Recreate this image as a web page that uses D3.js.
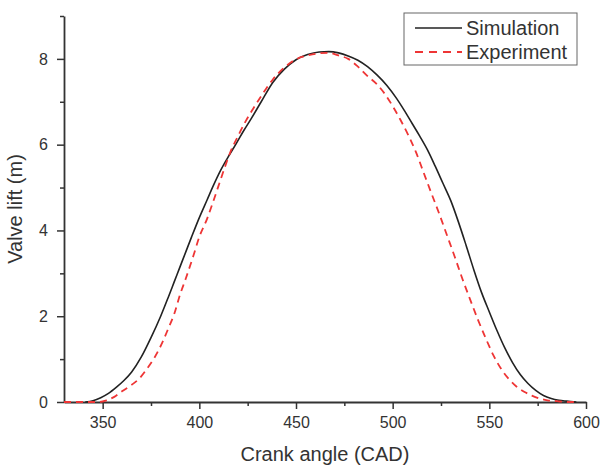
<!DOCTYPE html>
<html>
<head>
<meta charset="utf-8">
<script src="https://cdn.jsdelivr.net/npm/d3@7"></script>
<style>
  body { margin: 0; background: #fff; }
  svg { display: block; font-family: "Liberation Sans", Arial, sans-serif; }
</style>
</head>
<body>
<div id="chart"></div>
<script>
// simulated valve lift (black solid)
var simAngle = [341, 345, 349, 353, 357, 361, 365, 370, 375, 380, 384, 387, 390, 393, 396, 400, 404, 407, 411, 415,
                419, 423, 427, 432, 438, 444, 450, 456, 462, 467, 472, 477, 482, 487, 492, 497, 502, 506, 510, 514,
                518, 522, 526, 530, 534, 538, 542, 546, 550, 554, 558, 562, 566, 570, 574, 578, 582, 586, 590, 595];
var simLift = [0, 0.03, 0.1, 0.2, 0.34, 0.5, 0.7, 1.05, 1.5, 2.0, 2.45, 2.8, 3.15, 3.5, 3.85, 4.3, 4.71, 5.02, 5.4, 5.72,
               6.02, 6.33, 6.62, 7.0, 7.45, 7.76, 7.98, 8.1, 8.16, 8.17, 8.14, 8.07, 7.97, 7.82, 7.62, 7.38, 7.08, 6.8, 6.5, 6.2,
               5.88, 5.5, 5.1, 4.7, 4.2, 3.65, 3.08, 2.55, 2.1, 1.66, 1.26, 0.92, 0.64, 0.43, 0.27, 0.15, 0.08, 0.04, 0.02, 0];

// measured valve lift (red dashed)
var expAngle = [330, 340, 348, 352, 356, 360, 365, 369, 373, 377, 381, 384, 387, 390, 393, 397, 400, 404, 407, 410,
                413, 416, 420, 424, 428, 433, 438, 444, 450, 456, 462, 467, 472, 477, 482, 487, 492, 496, 500, 504,
                508, 512, 516, 520, 524, 528, 532, 536, 540, 544, 548, 552, 556, 560, 564, 568, 572, 576, 580, 585, 590, 596];
var expLift = [0, 0, 0, 0.04, 0.12, 0.25, 0.4, 0.55, 0.78, 1.05, 1.4, 1.72, 2.05, 2.5, 2.88, 3.42, 3.85, 4.27, 4.65, 5.05,
               5.45, 5.82, 6.2, 6.55, 6.85, 7.2, 7.52, 7.8, 7.99, 8.08, 8.13, 8.14, 8.08, 8.0, 7.82, 7.6, 7.4, 7.18, 6.9, 6.58,
               6.23, 5.83, 5.35, 4.87, 4.4, 3.9, 3.4, 2.88, 2.4, 1.93, 1.5, 1.1, 0.78, 0.54, 0.36, 0.24, 0.15, 0.08, 0.04, 0.02, 0, 0];

var xTicks = [350, 400, 450, 500, 550, 600];
var xMinor = [375, 425, 475, 525, 575];
var yTicks = [0, 2, 4, 6, 8];
var yMinor = [1, 3, 5, 7, 9];
var seriesNames = ['Simulation', 'Experiment'];

var width = 601,
    height = 467,
    margin = {top: 16, right: 15, bottom: 65, left: 64};
var w = width - margin.left - margin.right,
    h = height - margin.top - margin.bottom;

var svg = d3.select('#chart').append('svg')
    .attr('width', width)
    .attr('height', height);

var g = svg.append('g')
    .attr('transform', 'translate(' + margin.left + ',' + margin.top + ')');

var x = d3.scaleLinear().domain([330, 600]).range([0, w]);
var y = d3.scaleLinear().domain([0, 9]).range([h, 0]);

var axisColor = '#333';

// minor ticks first, then main axes
g.append('g')
    .attr('transform', 'translate(0,' + h + ')')
    .call(d3.axisBottom(x).tickValues(xMinor).tickSize(4).tickFormat(''))
    .call(function(s) { s.select('.domain').remove(); });
g.append('g')
    .call(d3.axisLeft(y).tickValues(yMinor).tickSize(4).tickFormat(''))
    .call(function(s) { s.select('.domain').remove(); });

var xAxis = g.append('g')
    .attr('transform', 'translate(0,' + h + ')')
    .call(d3.axisBottom(x).tickValues(xTicks).tickSize(7).tickSizeOuter(0).tickPadding(8));
var yAxis = g.append('g')
    .call(d3.axisLeft(y).tickValues(yTicks).tickSize(7).tickSizeOuter(0).tickPadding(9));

g.selectAll('.domain').attr('stroke', axisColor).attr('stroke-width', 1.8);
g.selectAll('.tick line').attr('stroke', axisColor).attr('stroke-width', 1.5);
g.selectAll('.tick text')
    .attr('fill', '#333')
    .style('font-size', '16px');

// axis titles
svg.append('text')
    .attr('x', margin.left + w / 2)
    .attr('y', 461)
    .attr('text-anchor', 'middle')
    .attr('fill', '#333')
    .style('font-size', '20px')
    .text('Crank angle (CAD)');

svg.append('text')
    .attr('transform', 'translate(22,' + (margin.top + h / 2) + ') rotate(-90)')
    .attr('text-anchor', 'middle')
    .attr('fill', '#333')
    .style('font-size', '20px')
    .text('Valve lift (m)');

var line = d3.line()
    .x(function(d) { return x(d[0]); })
    .y(function(d) { return y(d[1]); })
    .curve(d3.curveMonotoneX);

var simData = d3.zip(simAngle, simLift);
var expData = d3.zip(expAngle, expLift);

g.append('path')
    .datum(simData)
    .attr('fill', 'none')
    .attr('stroke', '#222')
    .attr('stroke-width', 1.6)
    .attr('d', line);

g.append('path')
    .datum(expData)
    .attr('fill', 'none')
    .attr('stroke', '#ee3535')
    .attr('stroke-width', 1.8)
    .attr('stroke-dasharray', '7,5')
    .attr('d', line);

// legend
var legend = svg.append('g').attr('transform', 'translate(404,13)');
legend.append('rect')
    .attr('width', 173)
    .attr('height', 52)
    .attr('fill', '#fff')
    .attr('stroke', '#666')
    .attr('stroke-width', 1);

var legendStyles = [
    {stroke: '#222', dash: null, width: 1.6},
    {stroke: '#ee3535', dash: '8,6', width: 1.8}
];

seriesNames.forEach(function(name, i) {
    var row = legend.append('g').attr('transform', 'translate(0,' + (15 + i * 24) + ')');
    row.append('line')
        .attr('x1', 11)
        .attr('x2', 58)
        .attr('stroke', legendStyles[i].stroke)
        .attr('stroke-width', legendStyles[i].width)
        .attr('stroke-dasharray', legendStyles[i].dash);
    row.append('text')
        .attr('x', 62)
        .attr('dy', '0.35em')
        .attr('fill', '#333')
        .style('font-size', '20px')
        .text(name);
});
</script>
</body>
</html>
